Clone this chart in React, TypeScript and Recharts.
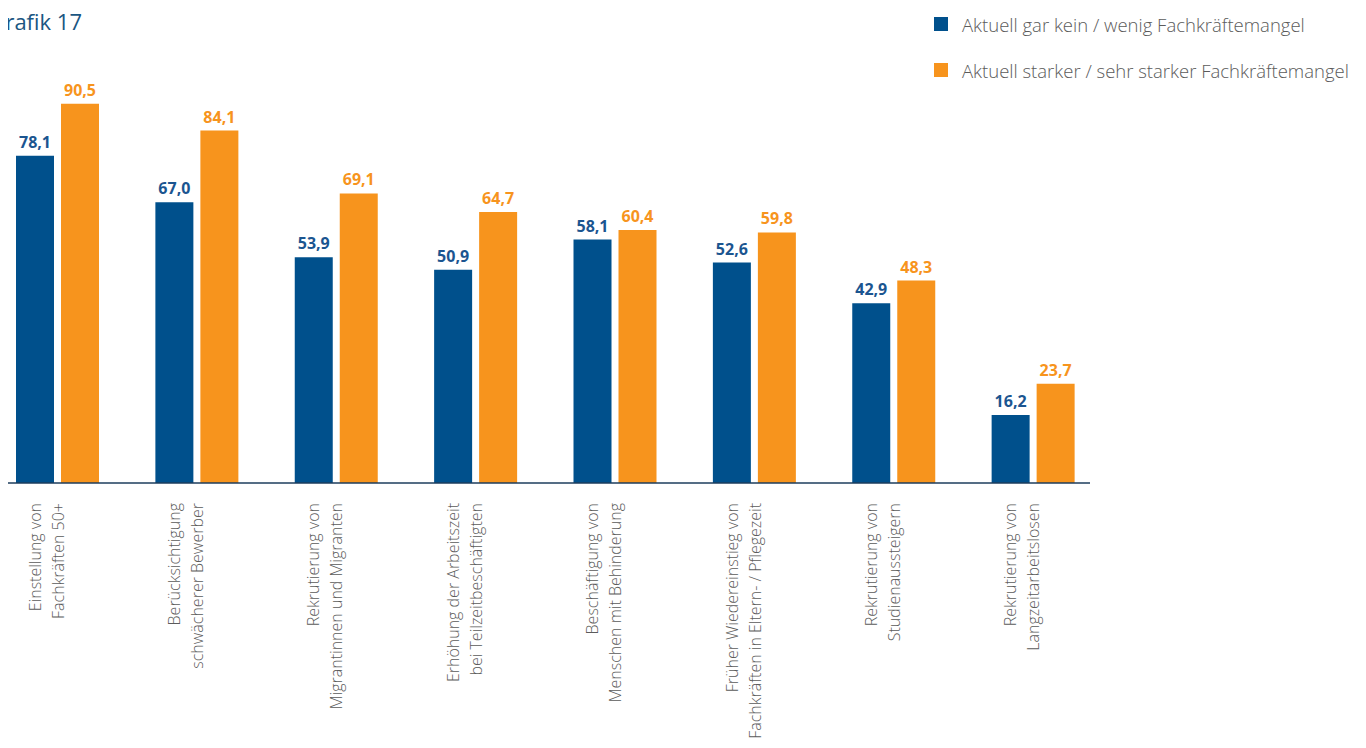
import { Bar, BarChart, LabelList, Legend, XAxis, YAxis } from "recharts"

const categories = [
    "Einstellung von\nFachkräften 50+",
    "Berücksichtigung\nschwächerer Bewerber",
    "Rekrutierung von\nMigrantinnen und Migranten",
    "Erhöhung der Arbeitszeit\nbei Teilzeitbeschäftigten",
    "Beschäftigung von\nMenschen mit Behinderung",
    "Früher Wiedereinstieg von\nFachkräften in Eltern- / Pflegezeit",
    "Rekrutierung von\nStudienaussteigern",
    "Rekrutierung von\nLangzeitarbeitslosen",
]

// share of companies, in percent
const lowShortage = [78.1, 67.0, 53.9, 50.9, 58.1, 52.6, 42.9, 16.2]
const highShortage = [90.5, 84.1, 69.1, 64.7, 60.4, 59.8, 48.3, 23.7]

const seriesNames = [
    "Aktuell gar kein / wenig Fachkräftemangel",
    "Aktuell starker / sehr starker Fachkräftemangel",
]

const data = categories.map((name, i) => ({
    name,
    low: lowShortage[i],
    high: highShortage[i],
}))

const FONT = "'Open Sans', 'Noto Sans', sans-serif"
const BLUE = "#00508c"
const ORANGE = "#f7941d"

const formatValue = (v: number) => v.toFixed(1).replace(".", ",")

function CategoryTick({ x, y, payload }: any) {
    const lines = String(payload.value).split("\n")
    return (
        <g transform={`translate(${x},${y})`}>
            <text
                transform="rotate(-90)"
                textAnchor="end"
                fill="#5b5b5b"
                fontSize={16}
                fontWeight={300}
                fontFamily={FONT}
            >
                {lines.map((line, i) => (
                    <tspan key={i} x={0} y={-17 + i * 23}>
                        {line}
                    </tspan>
                ))}
            </text>
        </g>
    )
}

function LegendContent({ payload }: any) {
    return (
        <div style={{ fontFamily: FONT }}>
            {(payload || []).map((entry: any, i: number) => (
                <div key={i} style={{ display: "flex", alignItems: "center", height: 46 }}>
                    <span style={{ width: 14, height: 14, background: entry.color, marginRight: 14, flexShrink: 0 }} />
                    <span style={{ fontSize: 18.5, fontWeight: 300, color: "#5b5b5b", whiteSpace: "nowrap" }}>
                        {entry.value}
                    </span>
                </div>
            ))}
        </div>
    )
}

export default function App() {
    return (
        <div style={{ position: "relative", width: 1366, height: 748, margin: -8, background: "#fff" }}>
            <svg width={200} height={44} style={{ position: "absolute", left: 0, top: 0 }}>
                <text x={82} y={30} textAnchor="end" fontSize={22} fontWeight={400} fontFamily={FONT} fill="#1b5682">
                    Grafik 17
                </text>
            </svg>
            <BarChart
                width={1366}
                height={748}
                data={data}
                margin={{ top: 64, right: 276, left: 7, bottom: 0 }}
                barSize={38}
                barGap={7}
                style={{ position: "absolute", left: 0, top: 0 }}
            >
                <XAxis
                    dataKey="name"
                    height={265}
                    interval={0}
                    padding={{ left: -19, right: -13 }}
                    tickLine={false}
                    tickSize={0}
                    tickMargin={20}
                    axisLine={{ stroke: "#1d3c5c", strokeWidth: 1.5 }}
                    tick={<CategoryTick />}
                />
                <YAxis hide domain={[0, 100]} />
                <Legend
                    layout="vertical"
                    align="center"
                    verticalAlign="middle"
                    wrapperStyle={{ top: 1, left: 934, width: 430 }}
                    content={<LegendContent />}
                />
                <Bar dataKey="low" name={seriesNames[0]} fill={BLUE} isAnimationActive={false}>
                    <LabelList
                        dataKey="low"
                        position="top"
                        offset={8}
                        formatter={(v: any) => formatValue(Number(v))}
                        fill="#1b5590"
                        fontSize={16}
                        fontWeight={700}
                        fontFamily={FONT}
                    />
                </Bar>
                <Bar dataKey="high" name={seriesNames[1]} fill={ORANGE} isAnimationActive={false}>
                    <LabelList
                        dataKey="high"
                        position="top"
                        offset={8}
                        formatter={(v: any) => formatValue(Number(v))}
                        fill={ORANGE}
                        fontSize={16}
                        fontWeight={700}
                        fontFamily={FONT}
                    />
                </Bar>
            </BarChart>
        </div>
    )
}
